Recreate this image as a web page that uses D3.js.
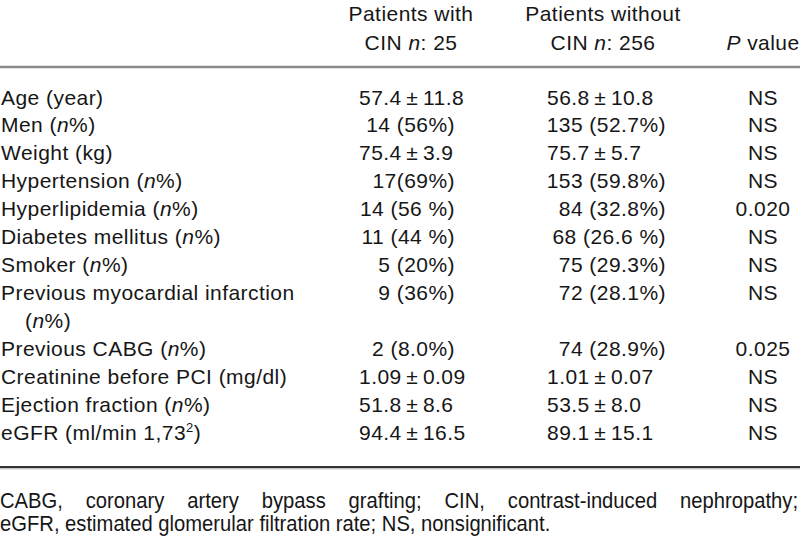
<!DOCTYPE html>
<html>
<head>
<meta charset="utf-8">
<script src="https://cdn.jsdelivr.net/npm/d3@7"></script>
<style>
  html, body { margin: 0; padding: 0; background: #fff; }
  svg { display: block; }
  text { font-family: "Liberation Sans", Arial, Helvetica, sans-serif; fill: #161616; }
</style>
</head>
<body>
<svg id="chart" width="800" height="538"></svg>
<script>
// ---------- data ----------
const headerLine1 = ["", "Patients with", "Patients without", ""];
const headerLine2 = ["", "CIN *n*: 25", "CIN *n*: 256", "*P* value"];

const variables = [
  ["Age (year)"],
  ["Men (*n*%)"],
  ["Weight (kg)"],
  ["Hypertension (*n*%)"],
  ["Hyperlipidemia (*n*%)"],
  ["Diabetes mellitus (*n*%)"],
  ["Smoker (*n*%)"],
  ["Previous myocardial infarction", "(*n*%)"],
  ["Previous CABG (*n*%)"],
  ["Creatinine before PCI (mg/dl)"],
  ["Ejection fraction (*n*%)"],
  ["eGFR (ml/min 1,73^2^)"]
];
const withCIN = ["57.4±11.8", "14 (56%)", "75.4±3.9", "17(69%)", "14 (56 %)", "11 (44 %)",
  "5 (20%)", "9 (36%)", "2 (8.0%)", "1.09±0.09", "51.8±8.6", "94.4±16.5"];
const withoutCIN = ["56.8±10.8", "135 (52.7%)", "75.7±5.7", "153 (59.8%)", "84 (32.8%)", "68 (26.6 %)",
  "75 (29.3%)", "72 (28.1%)", "74 (28.9%)", "1.01±0.07", "53.5±8.0", "89.1±15.1"];
const pValues = ["NS", "NS", "NS", "NS", "0.020", "NS", "NS", "NS", "0.025", "NS", "NS", "NS"];

const footnote1 = "CABG, coronary artery bypass grafting; CIN, contrast-induced nephropathy;";
const footnote2 = "eGFR, estimated glomerular filtration rate; NS, nonsignificant.";

// ---------- layout ----------
const W = 800;
const svg = d3.select("#chart");
const FS = 21;
const LS = 0.45;

let lineIdx = 0;
const rows = variables.map((v, i) => {
  const r = { label: v, start: lineIdx, a: withCIN[i], b: withoutCIN[i], p: pValues[i] };
  lineIdx += v.length;
  return r;
});
const y = d3.scaleLinear().domain([0, lineIdx - 1]).range([104.5, 440]);

const col = {
  varX: 1, varIndent: 25,
  aLeft: 359, aRight: 455, aCenter: 411,
  bLeft: 547, bRight: 666, bCenter: 603,
  pCenter: 763
};

// rich text: *italic*, ^super^
function rich(sel, str) {
  const parts = str.split(/(\*[^*]+\*|\^[^^]+\^)/).filter(s => s.length);
  let pending = 0;
  parts.forEach(p => {
    let ts;
    if (p.startsWith("*")) {
      ts = sel.append("tspan").attr("font-style", "italic").text(p.slice(1, -1));
      if (pending) { ts.attr("dy", pending); pending = 0; }
    } else if (p.startsWith("^")) {
      ts = sel.append("tspan").attr("font-size", FS * 0.62).attr("dy", -8).text(p.slice(1, -1));
      pending = 8;
    } else {
      ts = sel.append("tspan").text(p);
      if (pending) { ts.attr("dy", pending); pending = 0; }
    }
  });
  return sel;
}
function fmtVal(s) { return s.replace("±", "\u2009±\u2009"); }

const g = svg.append("g");

// header
const hx = [null, col.aCenter, col.bCenter, col.pCenter];
[headerLine1, headerLine2].forEach((line, li) => {
  line.forEach((t, ci) => {
    if (!t) return;
    const tx = g.append("text")
      .attr("x", hx[ci]).attr("y", li === 0 ? 20.5 : 50)
      .attr("text-anchor", "middle")
      .attr("font-size", FS).attr("letter-spacing", LS);
    rich(tx, t);
  });
});

// rules
g.append("line").attr("x1", 0).attr("x2", W).attr("y1", 67).attr("y2", 67)
  .attr("stroke", "#8a8a8a").attr("stroke-width", 2.5);
g.append("line").attr("x1", 0).attr("x2", W).attr("y1", 467).attr("y2", 467)
  .attr("stroke", "#333").attr("stroke-width", 2);
g.append("line").attr("x1", 0).attr("x2", W).attr("y1", 468.8).attr("y2", 468.8)
  .attr("stroke", "#aaa").attr("stroke-width", 1);

// body
rows.forEach(r => {
  r.label.forEach((l, k) => {
    const tx = g.append("text")
      .attr("x", k === 0 ? col.varX : col.varIndent)
      .attr("y", y(r.start + k))
      .attr("font-size", FS).attr("letter-spacing", LS);
    rich(tx, l);
  });
  const by = y(r.start);
  [[r.a, col.aLeft, col.aRight], [r.b, col.bLeft, col.bRight]].forEach(([v, L, R]) => {
    const pm = v.includes("±");
    g.append("text")
      .attr("x", pm ? L : R)
      .attr("y", by)
      .attr("text-anchor", pm ? "start" : "end")
      .attr("font-size", FS).attr("letter-spacing", LS)
      .text(fmtVal(v));
  });
  g.append("text")
    .attr("x", col.pCenter).attr("y", by)
    .attr("text-anchor", "middle")
    .attr("font-size", FS).attr("letter-spacing", LS)
    .text(r.p);
});

// footnotes (slightly condensed face)
const FFS = 21.5;
const SX = 0.94;
const foot = g.append("g").attr("transform", `scale(${SX},1)`);
function justify(text, yPos, width) {
  const words = text.split(" ");
  const tmp = foot.append("g");
  const widths = words.map(w => {
    const t = tmp.append("text").attr("font-size", FFS).text(w);
    return t.node().getComputedTextLength();
  });
  tmp.remove();
  const total = d3.sum(widths);
  const gap = (width / SX - total) / (words.length - 1);
  let x = 0;
  words.forEach((w, i) => {
    foot.append("text").attr("x", x).attr("y", yPos)
      .attr("font-size", FFS).text(w);
    x += widths[i] + gap;
  });
}
justify(footnote1, 508, 798);
foot.append("text").attr("x", 0).attr("y", 531)
  .attr("font-size", FFS)
  .text(footnote2);
</script>
</body>
</html>
